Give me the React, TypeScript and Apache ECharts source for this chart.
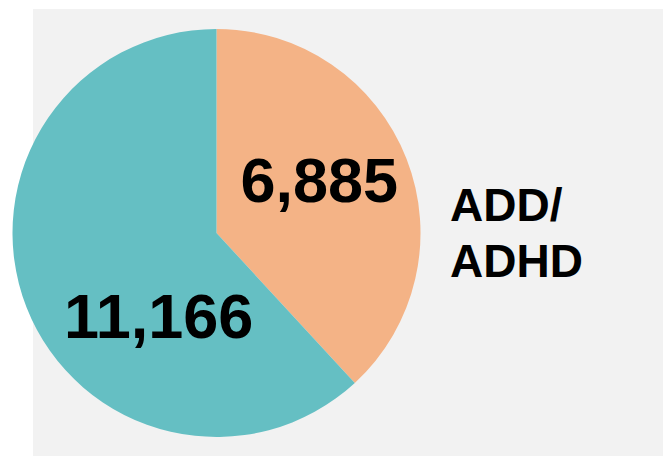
import React, { useEffect, useRef } from "react";
import * as echarts from "echarts";

const categories = ["ADD/ADHD", "Other"];
const values = [6885, 11166];
const colors = ["#f4b386", "#65bfc3"];
const sideLabel = "ADD/\nADHD";

export default function App() {
  const ref = useRef<HTMLDivElement>(null);
  useEffect(() => {
    if (!ref.current) return;
    const chart = echarts.init(ref.current, null, { renderer: "svg" });
    const shifts = [
      { dx: 5, dy: -15 },
      { dx: 40, dy: 45 },
    ];
    chart.setOption({
      animation: false,
      backgroundColor: "#ffffff",
      graphic: [
        {
          type: "rect",
          z: -10,
          silent: true,
          shape: { x: 33, y: 9, width: 640, height: 460 },
          style: { fill: "#f2f2f2" },
        },
        {
          type: "text",
          z: 10,
          left: 450,
          top: 177,
          style: {
            text: sideLabel,
            fill: "#000000",
            font: "bold 46px 'Liberation Sans', Arial, sans-serif",
            lineHeight: 56,
          },
        },
      ],
      series: [
        {
          type: "pie",
          center: [216.5, 233],
          radius: 204,
          startAngle: 90,
          clockwise: true,
          silent: true,
          itemStyle: { borderWidth: 0 },
          label: {
            show: true,
            position: "inside",
            color: "#000000",
            fontWeight: "bold",
            fontSize: 63,
            fontFamily: "'Liberation Sans', Arial, sans-serif",
            formatter: (p: any) => Number(p.value).toLocaleString("en-US"),
          },
          labelLine: { show: false },
          labelLayout: (p: any) => shifts[p.dataIndex],
          data: categories.map((c, i) => ({
            name: c,
            value: values[i],
            itemStyle: { color: colors[i] },
          })),
        },
      ],
    });
    return () => chart.dispose();
  }, []);
  return (
    <div
      ref={ref}
      style={{ position: "fixed", left: 0, top: 0, width: 663, height: 456 }}
    />
  );
}
